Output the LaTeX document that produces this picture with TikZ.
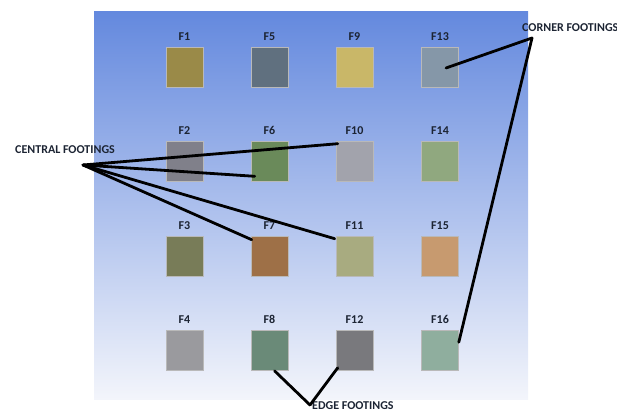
\documentclass[tikz,border=0pt]{standalone}
\usepackage{fontspec}
\setmainfont{Carlito}
\usepackage{tikz}
\usetikzlibrary{positioning}
\definecolor{bgtop}{HTML}{6489DE}
\definecolor{bgbot}{HTML}{F3F5FB}
\definecolor{ink}{HTML}{1C2433}
\tikzset{>=latex}

\begin{document}
\begin{tikzpicture}[x=1pt, y=-1pt,
    footing/.style={draw=gray!55, line width=0.6pt, minimum width=37pt,
      minimum height=40pt, inner sep=0pt},
    tag/.style={font=\fontsize{12}{14}\selectfont\bfseries, text=ink},
    leader/.style={line width=2.8pt, black, line cap=round}]

\useasboundingbox (0,0) rectangle (617,412);

% Plan area
\shade[top color=bgtop, bottom color=bgbot] (94,12) rectangle (528,399);

% Footings F1..F16
\foreach \n/\x/\y/\col in {
    1/184.5/67/9A8A48, 5/269.5/67/60707F, 9/354.5/67/C9B768, 13/440/67/8597A8,
    2/184.5/161/80808A, 6/269.5/161/6A8A5A, 10/354.5/161/A2A3AC, 14/440/161/90A87F,
    3/184.5/256/787C58, 7/269.5/256/9E7047, 11/354.5/256/A8AB80, 15/440/256/C79A6F,
    4/184.5/350.5/9A9A9E, 8/269.5/350.5/6A8A78, 12/354.5/350.5/79797D, 16/440/350.5/8FAE9E}
{
  \definecolor{fc}{HTML}{\col}
  \node[footing, fill=fc, label={[tag, label distance=3pt]above:F\n}] (f\n) at (\x,\y) {};
}

% Group labels
\node[tag, anchor=west, inner sep=1pt] (central) at (14,150) {CENTRAL FOOTINGS};
\node[tag, anchor=west, inner sep=1pt] (corner) at (521,28) {CORNER FOOTINGS};
\node[tag, anchor=south west, inner sep=1pt] (edge) at (311,411) {EDGE FOOTINGS};

% Hubs
\coordinate (hubC) at (83,165);
\coordinate (hubK) at (532,38);
\coordinate (hubE) at (310,405);

% Central footings
\draw[leader] (hubC) -- ([shift={(2,3)}]f10.north west);
\draw[leader] (hubC) -- ([shift={(4,-5)}]f6.south west);
\draw[leader] (hubC) -- ([shift={(1,4)}]f7.north west);
\draw[leader] (hubC) -- ([shift={(-1,3)}]f11.north west);

% Corner footings
\draw[leader] (hubK) -- ([shift={(6,1)}]f13.center);
\draw[leader] (hubK) -- ([shift={(0,12)}]f16.north east);

% Edge footings
\draw[leader] (hubE) -- ([shift={(5,0)}]f8.south);
\draw[leader] (hubE) -- ([shift={(2,-3)}]f12.south west);
\end{tikzpicture}
\end{document}
